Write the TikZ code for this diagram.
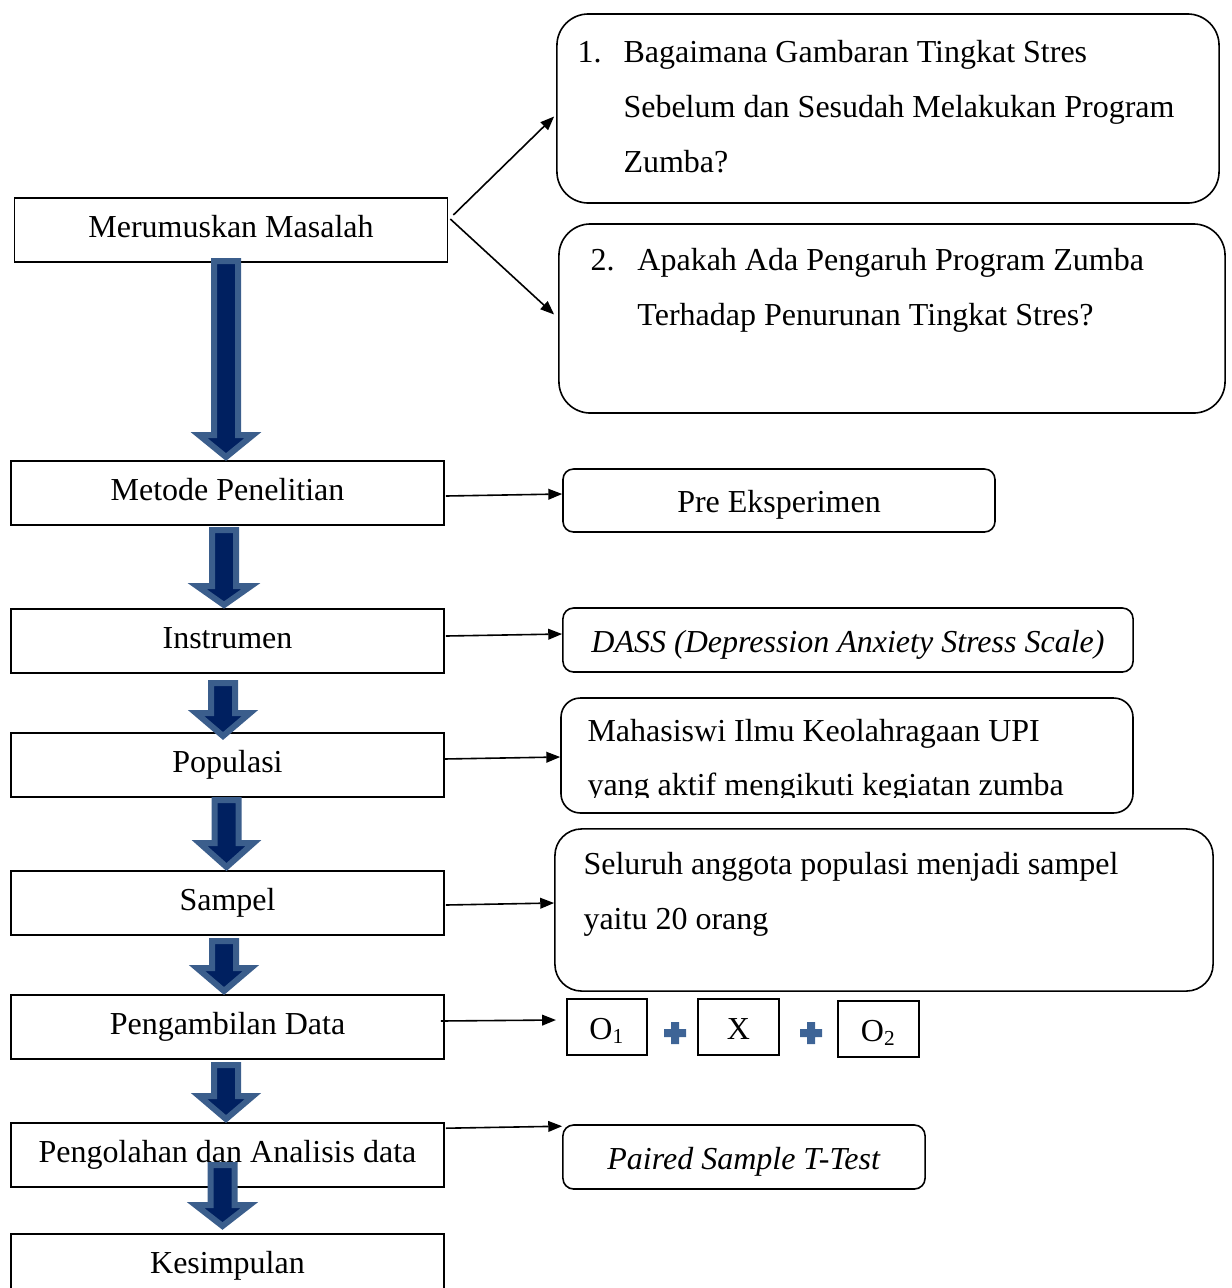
\documentclass[tikz,border=0pt]{standalone}
\usepackage{fontspec}
\setmainfont{Liberation Serif}
\usetikzlibrary{arrows.meta}

\begin{document}
\begin{tikzpicture}[x=0.375pt,y=0.375pt,yscale=-1,xscale=1,
	every node/.style={font=\fontsize{12}{20.6}\selectfont},
	kotak/.style={draw, line width=0.6pt, inner sep=0pt, text height=8.5pt, text depth=3pt, minimum width=162.4pt, minimum height=24pt},
	kotakbulat/.style={draw, line width=0.6pt, inner sep=0pt, text height=10.5pt, text depth=1.5pt},
	teks/.style={inner sep=0pt, align=left, anchor=west},
	panah/.style={line width=0.6pt, -{Triangle[length=5.2pt,width=4pt]}},
	panahbesar/.style={draw={rgb,255:red,59;green,94;blue,140}, fill={rgb,255:red,0;green,32;blue,96}, line width=2.25pt},
	tambah/.style={fill={rgb,255:red,62;green,100;blue,150}}]
	\useasboundingbox (0,0) rectangle (1232,1288);
	% alur kiri
	\node [kotak] (masalah) at (231,230) {Merumuskan Masalah};
	\node [kotak] (metode) at (227.5,493) {Metode Penelitian};
	\node [kotak] (instrumen) at (227.5,641) {Instrumen};
	\node [kotak] (populasi) at (227.5,765) {Populasi};
	\node [kotak] (sampel) at (227.5,903) {Sampel};
	\node [kotak] (ambildata) at (227.5,1027) {Pengambilan Data};
	\node [kotak] (olahdata) at (227.5,1155) {Pengolahan dan Analisis data};
	\node [kotak] (kesimpulan) at (227.5,1266) {Kesimpulan};
	% keterangan kanan
	\node [kotakbulat, rounded corners=11.8pt, minimum width=248.3pt, minimum height=70.9pt] (rumusan1) at (888,108.5) {};
	\node [teks] (rumusan1teks) at (577,107) {\makebox[17.25pt][l]{1.}Bagaimana Gambaran Tingkat Stres\\\hspace*{17.25pt}Sebelum dan Sesudah Melakukan Program\\\hspace*{17.25pt}Zumba?};
	\node [kotakbulat, rounded corners=11.8pt, minimum width=249.8pt, minimum height=70.9pt] (rumusan2) at (892,318.5) {};
	\node [teks] (rumusan2teks) at (590,290.5) {\makebox[17.6pt][l]{2.}Apakah Ada Pengaruh Program Zumba\\\hspace*{17.6pt}Terhadap Penurunan Tingkat Stres?};
	\node [kotakbulat, rounded corners=3.9pt, minimum width=162pt, minimum height=23.6pt] (preeks) at (779,500.5) {Pre Eksperimen};
	\node [kotakbulat, rounded corners=4pt, minimum width=213.8pt, minimum height=24pt] (dass) at (848,640) {\textit{DASS (Depression Anxiety Stress Scale)}};
	\node [kotakbulat, rounded corners=7.2pt, minimum width=214.5pt, minimum height=43.1pt] (populasiket) at (847,755.5) {};
	\begin{scope}
		\clip (561,698) rectangle (1133,797);
		\node [teks, font=\fontsize{12}{20.25}\selectfont] (populasiteks) at (587,761) {Mahasiswi Ilmu Keolahragaan UPI\\yang aktif mengikuti kegiatan zumba};
	\end{scope}
	\node [kotakbulat, rounded corners=10pt, minimum width=246.8pt, minimum height=60.8pt] (sampelket) at (884,910) {};
	\node [teks] (sampelteks) at (583,894.5) {Seluruh anggota populasi menjadi sampel\\yaitu 20 orang};
	\node [kotakbulat, minimum width=30pt, minimum height=21pt] (obs1) at (607,1027) {O\textsubscript{1}};
	\node [kotakbulat, minimum width=30.4pt, minimum height=21pt] (perlakuan) at (738.5,1027) {X};
	\node [kotakbulat, minimum width=30.4pt, minimum height=21pt] (obs2) at (878.5,1029) {O\textsubscript{2}};
	\node [kotakbulat, rounded corners=4pt, minimum width=135.8pt, minimum height=24pt] (uji) at (744,1157) {\textit{Paired Sample T-Test}};
	\foreach \px in {675,811}
		\fill [tambah, shift={(\px,1033)}] (-4,-11) -- (4,-11) -- (4,-4) -- (11,-4) -- (11,4) -- (4,4) -- (4,11) -- (-4,11) -- (-4,4) -- (-11,4) -- (-11,-4) -- (-4,-4) -- cycle ;
	% panah penghubung
	\coordinate (dataujung) at (556,1020);
	\draw [panah] ([shift={(5,-15)}]masalah.east) -- ([shift={(-2,8)}]rumusan1.west) ;
	\draw [panah] ([shift={(2,-11)}]masalah.east) -- ([shift={(-4,-4)}]rumusan2.west) ;
	\draw [panah] ([shift={(1,3)}]metode.east) -- ([shift={(0,1)}]metode.east -| preeks.west) ;
	\draw [panah] ([shift={(1,-5)}]instrumen.east) -- ([shift={(0,-6)}]dass.west) ;
	\draw [panah] ([shift={(-1,-6)}]populasi.east) -- ([shift={(0,1.5)}]populasiket.west) ;
	\draw [panah] ([shift={(1,2)}]sampel.east) -- (sampel.east -| sampelket.west) ;
	\draw [panah] ([shift={(-4,-6)}]ambildata.east) -- (dataujung) ;
	\draw [panah] ([shift={(1,6)}]olahdata.north east) -- ([shift={(0,2)}]uji.north west) ;
	% panah blok ke bawah
	\foreach \cx/\atas/\kepala/\ujung in {226/261/435/457, 224/530/586/605, 223/683/713/736, 226.5/800/843/867, 224/941/968/991, 226/1065/1096/1119, 222.5/1165/1205/1226}
		\draw [panahbesar] ({\cx-12},\atas) -- ({\cx+12},\atas) -- ({\cx+12},\kepala) -- ({\cx+27},\kepala) -- (\cx,\ujung) -- ({\cx-27},\kepala) -- ({\cx-12},\kepala) -- cycle ;
\end{tikzpicture}
\end{document}
